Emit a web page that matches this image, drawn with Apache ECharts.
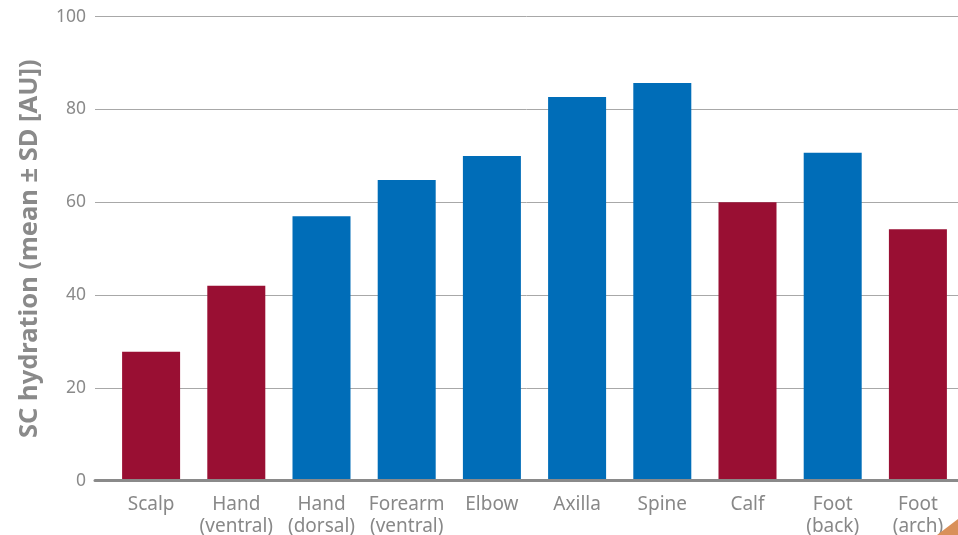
<!DOCTYPE html>
<html>
<head>
<meta charset="utf-8">
<script src="https://cdn.jsdelivr.net/npm/echarts@6/dist/echarts.min.js"></script>
<style>html,body{margin:0;padding:0;background:#fff;}#c{width:958px;height:535px;}</style>
</head>
<body>
<div id="c"></div>
<script>
var categories = ['Scalp', 'Hand\n(ventral)', 'Hand\n(dorsal)', 'Forearm\n(ventral)', 'Elbow', 'Axilla', 'Spine', 'Calf', 'Foot\n(back)', 'Foot\n(arch)'];
var values = [27.8, 42.0, 57.0, 64.8, 70.0, 82.7, 85.7, 60.0, 70.7, 54.2];
var groups = ['red', 'red', 'blue', 'blue', 'blue', 'blue', 'blue', 'red', 'blue', 'red'];
var yTicks = [0, 20, 40, 60, 80, 100];
var colorMap = { red: '#990F33', blue: '#006DB8' };

var chart = echarts.init(document.getElementById('c'), null, { renderer: 'canvas' });
var font = '"Noto Sans", "Open Sans", sans-serif';
chart.setOption({
  animation: false,
  backgroundColor: '#ffffff',
  grid: [
    { left: 95, width: 863, top: 16.7, bottom: 54.3, outerBoundsMode: 'none' },
    { left: 108.5, width: 852, top: 16.7, bottom: 54.3, outerBoundsMode: 'none' }
  ],
  xAxis: [
    { type: 'value', gridIndex: 0, min: 0, max: 1, z: 5,
      axisLine: { show: true, lineStyle: { color: '#8a8a8a', width: 3 } },
      axisTick: { show: false }, axisLabel: { show: false }, splitLine: { show: false } },
    { type: 'category', gridIndex: 1, data: categories,
      axisLine: { show: false }, axisTick: { show: false },
      axisLabel: { color: '#888888', fontSize: 19, lineHeight: 22, margin: 13, fontFamily: font, interval: 0 } }
  ],
  yAxis: [
    { type: 'value', gridIndex: 0, min: yTicks[0], max: yTicks[yTicks.length - 1], interval: 20,
      name: 'SC hydration (mean ± SD [AU])', nameLocation: 'middle', nameGap: 52,
      nameTextStyle: { color: '#8a8a8a', fontSize: 25.5, fontWeight: 'bold', fontFamily: font },
      axisLine: { show: false }, axisTick: { show: false },
      axisLabel: { color: '#8a8a8a', fontSize: 17.5, margin: 9, fontFamily: font },
      splitLine: { lineStyle: { color: '#a8a8a8', width: 1 } } },
    { type: 'value', gridIndex: 1, min: 0, max: 100, show: false, splitLine: { show: false } }
  ],
  series: [{
    type: 'bar', xAxisIndex: 1, yAxisIndex: 1, barWidth: 58,
    data: values.map(function (v, i) { return { value: v, itemStyle: { color: colorMap[groups[i]] } }; })
  }],
  graphic: [{
    type: 'polygon', z: 100,
    shape: { points: [[937, 535], [958, 535], [958, 519]] },
    style: { fill: '#D9905A' }
  }]
});
</script>
</body>
</html>
